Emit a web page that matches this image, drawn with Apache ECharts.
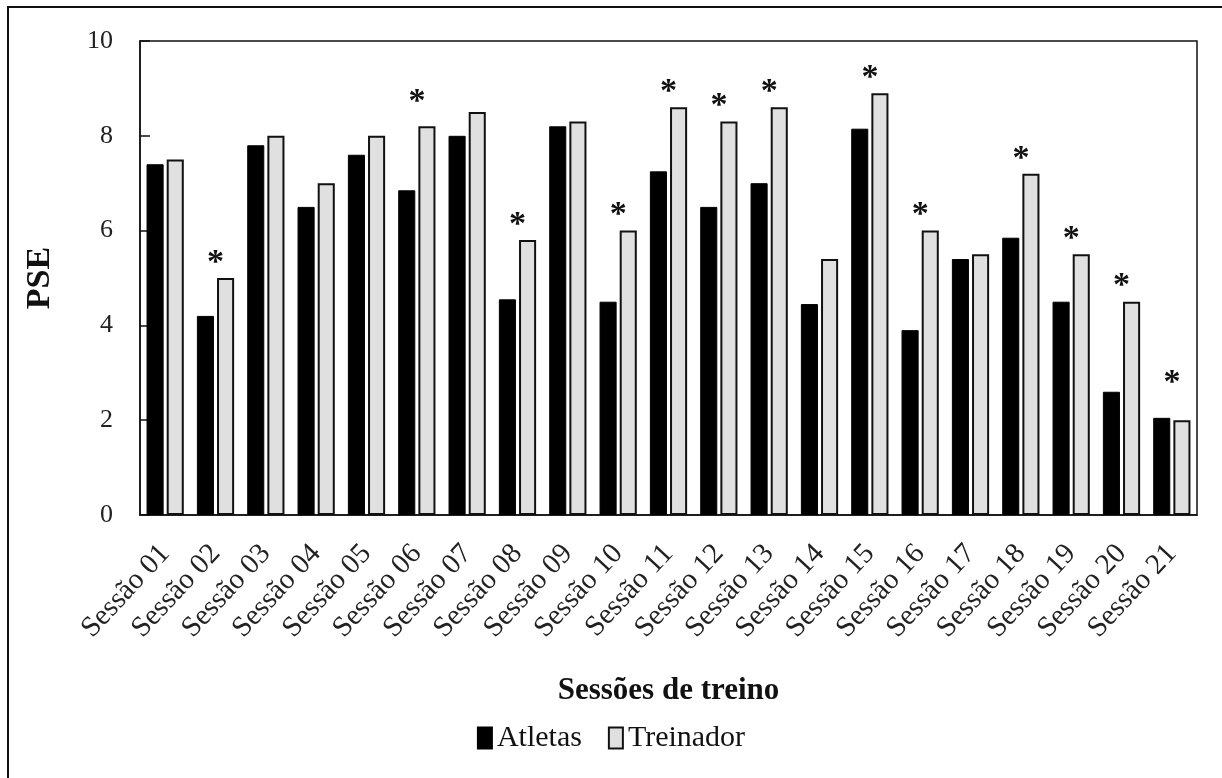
<!DOCTYPE html>
<html>
<head>
<meta charset="utf-8">
<title>PSE por sessão de treino</title>
<script src="https://cdn.jsdelivr.net/npm/echarts@6/dist/echarts.min.js"></script>
<style>
  html, body { margin: 0; padding: 0; background: #fff; }
  #chart { width: 1222px; height: 778px; }
</style>
</head>
<body>
<div id="chart"></div>
<script>
// Sessions on the category axis
const sessions = [
  'Sessão 01', 'Sessão 02', 'Sessão 03', 'Sessão 04', 'Sessão 05', 'Sessão 06', 'Sessão 07',
  'Sessão 08', 'Sessão 09', 'Sessão 10', 'Sessão 11', 'Sessão 12', 'Sessão 13', 'Sessão 14',
  'Sessão 15', 'Sessão 16', 'Sessão 17', 'Sessão 18', 'Sessão 19', 'Sessão 20', 'Sessão 21'
];

// Mean PSE reported by the athletes
const atletas = [
  7.4, 4.2, 7.8, 6.5, 7.6, 6.85, 8.0, 4.55, 8.2, 4.5, 7.25,
  6.5, 7.0, 4.45, 8.15, 3.9, 5.4, 5.85, 4.5, 2.6, 2.05
];

// PSE planned by the coach
const treinador = [
  7.5, 5.0, 8.0, 7.0, 8.0, 8.2, 8.5, 5.8, 8.3, 6.0, 8.6,
  8.3, 8.6, 5.4, 8.9, 6.0, 5.5, 7.2, 5.5, 4.5, 2.0
];

// Sessions with a significant difference (marked with *)
const significativas = [
  'Sessão 02', 'Sessão 06', 'Sessão 08', 'Sessão 10', 'Sessão 11', 'Sessão 12', 'Sessão 13',
  'Sessão 15', 'Sessão 16', 'Sessão 18', 'Sessão 19', 'Sessão 20', 'Sessão 21'
];

// Y-axis ticks
const yTicks = [0, 2, 4, 6, 8, 10];

const serif = '"Liberation Serif", "Times New Roman", serif';

// Extra lift for a few asterisks that sit higher above their bar
const starLift = { 'Sessão 06': 9, 'Sessão 21': 22 };

const treinadorData = treinador.map((v, i) => {
  const name = sessions[i];
  if (!significativas.includes(name)) return v;
  return {
    value: v,
    label: {
      show: true,
      position: 'top',
      distance: 0,
      formatter: '*',
      offset: [-10, 2 - (starLift[name] || 0)],
      fontFamily: serif,
      fontWeight: 'bold',
      fontSize: 34,
      color: '#111'
    }
  };
});

const chart = echarts.init(document.getElementById('chart'), null, { renderer: 'canvas' });

chart.setOption({
  backgroundColor: '#ffffff',
  animation: false,
  textStyle: { fontFamily: serif },
  graphic: [
    {
      type: 'polyline',
      shape: { points: [[8, 790], [8, 7], [1230, 7]] },
      style: { stroke: '#111', lineWidth: 2, fill: null }
    }
  ],
  grid: {
    left: 140,
    right: 25,
    top: 41,
    bottom: 263,
    show: true,
    borderColor: '#111',
    borderWidth: 1.5,
    backgroundColor: 'transparent'
  },
  legend: {
    bottom: 20,
    left: 'center',
    icon: 'rect',
    itemWidth: 14,
    itemHeight: 21,
    itemGap: 26,
    textStyle: { fontFamily: serif, fontSize: 30, color: '#111' },
    data: ['Atletas', 'Treinador']
  },
  xAxis: {
    type: 'category',
    data: sessions,
    name: 'Sessões de treino',
    nameLocation: 'middle',
    nameGap: 160,
    nameTextStyle: { fontFamily: serif, fontSize: 31, fontWeight: 'bold', color: '#111' },
    axisLine: { show: true, lineStyle: { color: '#111', width: 1.5 } },
    axisTick: { show: false },
    axisLabel: {
      rotate: 47,
      margin: 34,
      fontFamily: serif,
      fontSize: 29,
      color: '#222',
      interval: 0
    }
  },
  yAxis: {
    type: 'value',
    min: yTicks[0],
    max: yTicks[yTicks.length - 1],
    interval: yTicks[1] - yTicks[0],
    name: 'PSE',
    nameLocation: 'middle',
    nameGap: 83,
    nameTextStyle: { fontFamily: serif, fontSize: 34, fontWeight: 'bold', color: '#111' },
    axisLine: { show: true, lineStyle: { color: '#111', width: 1.5 } },
    axisTick: { show: true, inside: true, length: 10, lineStyle: { color: '#111', width: 1.5 } },
    splitLine: { show: false },
    axisLabel: { margin: 27, fontFamily: serif, fontSize: 26, color: '#222' }
  },
  series: [
    {
      name: 'Atletas',
      type: 'bar',
      data: atletas,
      barGap: '18%',
      barCategoryGap: '26%',
      itemStyle: { color: '#000', borderColor: '#000', borderWidth: 1 }
    },
    {
      name: 'Treinador',
      type: 'bar',
      data: treinadorData,
      itemStyle: { color: '#e0e0e0', borderColor: '#111', borderWidth: 2 }
    }
  ]
});
</script>
</body>
</html>
